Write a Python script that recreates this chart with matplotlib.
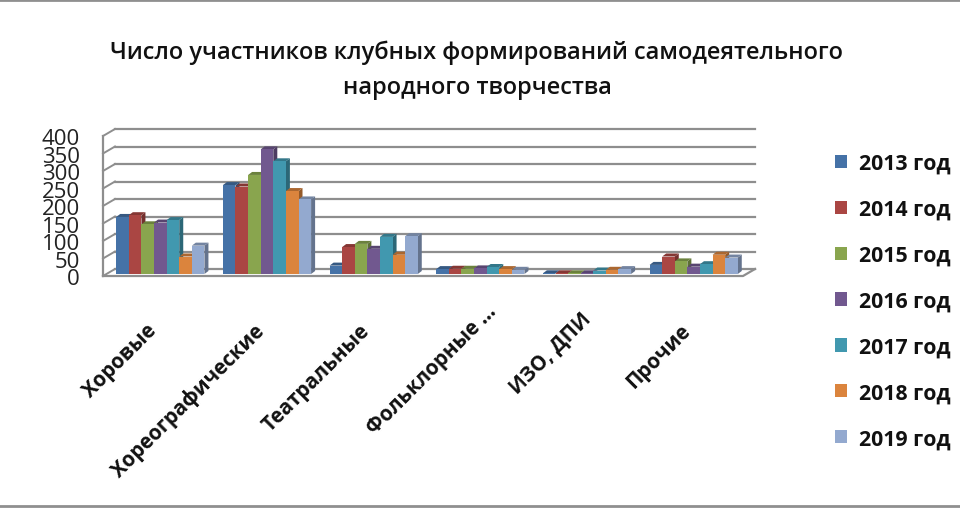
import matplotlib
matplotlib.use("Agg")
import matplotlib.pyplot as plt
from matplotlib.patches import Polygon, Patch
from matplotlib.lines import Line2D
from matplotlib.transforms import ScaledTranslation
import numpy as np

plt.rcParams['font.family'] = ['Open Sans', 'DejaVu Sans']

categories = ['Хоровые', 'Хореографические', 'Театральные', 'Фольклорные ...', 'ИЗО, ДПИ', 'Прочие']
years = ['2013 год', '2014 год', '2015 год', '2016 год', '2017 год', '2018 год', '2019 год']
v2013 = [163, 254, 24, 14, 2, 26]
v2014 = [168, 250, 77, 15, 2, 50]
v2015 = [142, 283, 86, 15, 2, 36]
v2016 = [147, 356, 72, 16, 2, 21]
v2017 = [154, 322, 106, 20, 10, 28]
v2018 = [50, 237, 55, 14, 12, 55]
v2019 = [81, 213, 108, 12, 14, 47]
series = [v2013, v2014, v2015, v2016, v2017, v2018, v2019]
colors = ['#4572A7', '#AA4643', '#89A54E', '#71588F', '#4198AF', '#DB843D', '#93A9CF']
ticks = [0, 50, 100, 150, 200, 250, 300, 350, 400]
title = 'Число участников клубных формирований самодеятельного\nнародного творчества'

W, H = 960, 510
fig = plt.figure(figsize=(W / 100, H / 100), dpi=100, facecolor='white')
L, R, B, T = 107, 747, 275, 135
ax = fig.add_axes([L / W, 1 - B / H, (R - L) / W, (B - T) / H])
ax.set_xlim(-0.5, 5.5)
ax.set_ylim(0, 400)
ax.patch.set_visible(False)
for s in ax.spines.values():
    s.set_visible(False)

px = 6 / (R - L)      # data units per pixel, x
py = 400 / (B - T)    # data units per pixel, y


def P(x, y, dx=0, dy=0):
    return (x + dx * px, y + dy * py)


def shade(c, f):
    r = np.array(matplotlib.colors.to_rgb(c)) * f
    return tuple(r)


def shift(artist, dx, dy):
    artist.set_transform(artist.get_transform() +
                         ScaledTranslation(dx / 100, dy / 100, fig.dpi_scale_trans))


# walls / gridlines
gc = '#8e8e8e'
xl, xr = -0.5, 5.5
fx, fy, bx, by = -4, -2, 8, 5
for t in ticks:
    a = P(xl, t, fx, fy)
    b = P(xl, t, bx, by)
    c = P(xr, t, bx, by)
    ax.add_line(Line2D([a[0], b[0]], [a[1], b[1]], color=gc, lw=1.4, clip_on=False, zorder=1))
    ax.add_line(Line2D([b[0], c[0]], [b[1], c[1]], color=gc, lw=1.6, clip_on=False, zorder=1))
a, b = P(xl, 0, fx, fy), P(xl, 400, fx, fy)
ax.add_line(Line2D([a[0], b[0]], [a[1], b[1]], color=gc, lw=1.6, clip_on=False, zorder=1))
a, b, c = P(xl, 0, fx, fy), P(xr, 0, fx, fy), P(xr, 0, bx, by)
ax.add_line(Line2D([a[0], b[0], c[0]], [a[1], b[1], c[1]], color=gc, lw=1.6, clip_on=False, zorder=1))

# bars
bw = 12.6 / (R - L) * 6
n = len(series)
ddx, ddy = 4, 3
for j, (vals, col) in enumerate(zip(series, colors)):
    for i, v in enumerate(vals):
        x0 = i + (j - n / 2) * bw
        x1 = x0 + bw
        z = 3 + j * 0.01
        ax.add_patch(Polygon([P(x1, 0), P(x1, v), P(x1, v, ddx, ddy), P(x1, 0, ddx, ddy)],
                             closed=True, fc=shade(col, 0.68), ec='none', zorder=z, clip_on=False))
        ax.add_patch(Polygon([P(x0, v), P(x1, v), P(x1, v, ddx, ddy), P(x0, v, ddx, ddy)],
                             closed=True, fc=shade(col, 0.78), ec='none', zorder=z, clip_on=False))
        ax.bar(x0, v, width=bw, align='edge', color=col, zorder=z + 0.005, clip_on=False)

ax.set_yticks(ticks)
ax.set_yticklabels([str(t) for t in ticks], fontsize=16, color='#222222')
ax.tick_params(axis='y', length=0, pad=19.5)
ax.set_xticks(range(len(categories)))
ax.set_xticklabels(categories, rotation=45, ha='right', rotation_mode='anchor',
                   fontsize=14.8, fontweight='bold', color='#111111')
ax.tick_params(axis='x', length=0, pad=35)
fig.canvas.draw()
for lab in ax.get_yticklabels():
    shift(lab, 0, -2.5)
label_shift = [(-14, 3), (-14, 3), (-14, 3), (6, 22), (-7, 15), (-14, 3)]
for lab, (dx, dy) in zip(ax.get_xticklabels(), label_shift):
    shift(lab, dx, dy)

fig.text(477 / W, 1 - 70 / H, title, ha='center', va='center', fontsize=17,
         fontweight='semibold', color='#111111', linespacing=1.6)

handles = [Patch(fc=c, ec='none') for c in colors]
leg = fig.legend(handles, years, loc='upper left', bbox_to_anchor=(835 / W, 1 - 154 / H),
                 frameon=False, fontsize=15.3, handlelength=0.58, handleheight=0.58,
                 handletextpad=0.53, labelspacing=1.17, borderpad=0, borderaxespad=0,
                 labelcolor='#111111')
for t in leg.get_texts():
    t.set_fontweight('bold')

# outer frame lines
for yy in (1, 507):
    fig.add_artist(Line2D([0, 1], [1 - yy / H, 1 - yy / H], color='#8f8f8f', lw=2))

fig.savefig('out.png', dpi=100)
